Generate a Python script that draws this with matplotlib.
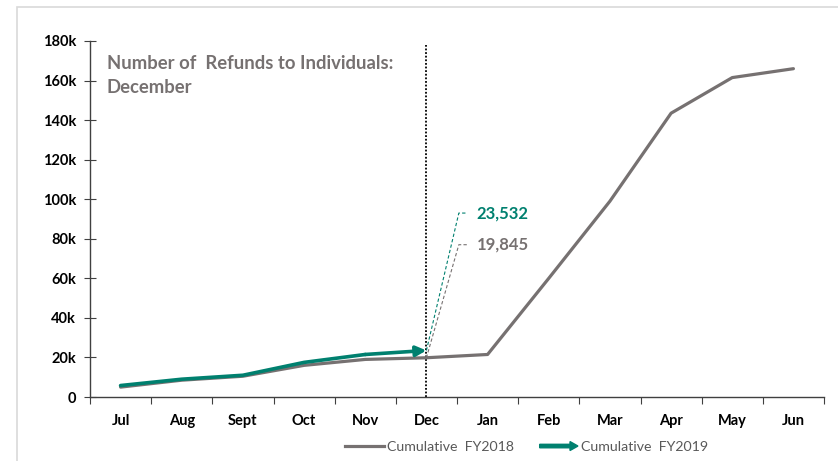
import matplotlib
matplotlib.use("Agg")
import matplotlib.pyplot as plt
from matplotlib.lines import Line2D
from matplotlib.patches import FancyArrow, Rectangle
from matplotlib.legend_handler import HandlerPatch

plt.rcParams['font.family'] = ['Lato', 'DejaVu Sans']

# data
months = ['Jul', 'Aug', 'Sept', 'Oct', 'Nov', 'Dec',
          'Jan', 'Feb', 'Mar', 'Apr', 'May', 'Jun']
fy2018 = [5000, 8500, 10500, 16000, 19000, 19845,
          21500, 60000, 99000, 143500, 161500, 166000]
fy2019 = [5800, 9000, 11000, 17500, 21500, 23532]
label_2018 = 'Cumulative  FY2018'
label_2019 = 'Cumulative  FY2019'
title = 'Number of  Refunds to Individuals:\nDecember'
y_ticks = [0, 20000, 40000, 60000, 80000, 100000, 120000, 140000, 160000, 180000]
y_labels = ['0', '20k', '40k', '60k', '80k', '100k', '120k', '140k', '160k', '180k']

GREY = '#767171'
TEAL = '#00806F'

fig = plt.figure(figsize=(8.38, 4.61), dpi=100)
ax = fig.add_axes([90 / 838, 1 - 397 / 461, (824 - 90) / 838, (397 - 41) / 461])

# light border of the chart area
fig.patches.append(Rectangle((17 / 838, -0.05), 1.0, 1 - 7 / 461 + 0.05,
                             transform=fig.transFigure, fill=False,
                             edgecolor='#D9D9D9', linewidth=1.2))

x18 = list(range(len(fy2018)))
x19 = list(range(len(fy2019)))

ax.plot(x18, fy2018, color=GREY, linewidth=2.3, solid_capstyle='round', zorder=3)
ax.plot(x19[:-1], fy2019[:-1], color=TEAL, linewidth=2.6, solid_capstyle='round', zorder=4)
ax.annotate('', xy=(x19[-1], fy2019[-1]), xytext=(x19[-2], fy2019[-2]),
            arrowprops=dict(arrowstyle='-|>,head_length=0.6,head_width=0.3',
                            color=TEAL, lw=2.6, shrinkA=0, shrinkB=0), zorder=4)

# dotted December line
dec = months.index('Dec')
ax.axvline(dec, ymin=0, ymax=0.99, color='black', linestyle=(0, (1, 1)),
           linewidth=1.3, zorder=2)

# data labels with leader lines
for val, yl, col in [(fy2019[dec], 93000, TEAL), (fy2018[dec], 77000, GREY)]:
    ax.plot([dec, dec + 0.53, dec + 0.66], [val, yl, yl], color=col,
            linestyle=(0, (3, 2)), linewidth=0.8, zorder=3)
    ax.text(dec + 0.82, yl, f'{val:,}', color=col, fontsize=12,
            fontweight='bold', va='center', ha='left')

ax.text(0.023, 0.962, title, transform=ax.transAxes, color=GREY,
        fontsize=13.3, fontweight='bold', va='top', ha='left', linespacing=1.5)

ax.set_xlim(-0.5, len(months) - 0.5)
ax.set_ylim(0, 180000)
ax.set_yticks(y_ticks)
ax.set_yticklabels(y_labels)
ax.set_xticks([i - 0.5 for i in range(len(months) + 1)])
ax.set_xticklabels([])
ax.set_xticks(x18, minor=True)
ax.set_xticklabels(months, minor=True)
ax.tick_params(axis='x', which='major', direction='out', length=5, color='#404040')
ax.tick_params(axis='x', which='minor', length=0, pad=12)
ax.tick_params(axis='y', direction='inout', length=8, color='#404040', pad=6)
for lab in ax.get_xticklabels(minor=True) + ax.get_yticklabels():
    lab.set_fontweight('bold')
    lab.set_fontsize(10.5)

for s in ['top', 'right']:
    ax.spines[s].set_visible(False)
for s in ['left', 'bottom']:
    ax.spines[s].set_color('#404040')
    ax.spines[s].set_linewidth(1.0)


def make_arrow(legend, orig_handle, xdescent, ydescent, width, height, fontsize):
    return FancyArrow(0, height / 2, width, 0, width=height * 0.35,
                      head_width=height * 0.9, head_length=height * 0.8,
                      length_includes_head=True, color=TEAL)


h18 = Line2D([], [], color=GREY, linewidth=2.3)
h19 = FancyArrow(0, 0, 1, 0, color=TEAL)
leg = fig.legend([h18, h19], [label_2018, label_2019], loc='center',
                 bbox_to_anchor=(527 / 838, 1 - 447 / 461), ncol=2, frameon=False,
                 handler_map={FancyArrow: HandlerPatch(patch_func=make_arrow)},
                 handlelength=2.7, handletextpad=0.25, columnspacing=1.8,
                 prop={'size': 10.2})
for t in leg.get_texts():
    t.set_color('#595959')

fig.savefig('out.png', dpi=100)
